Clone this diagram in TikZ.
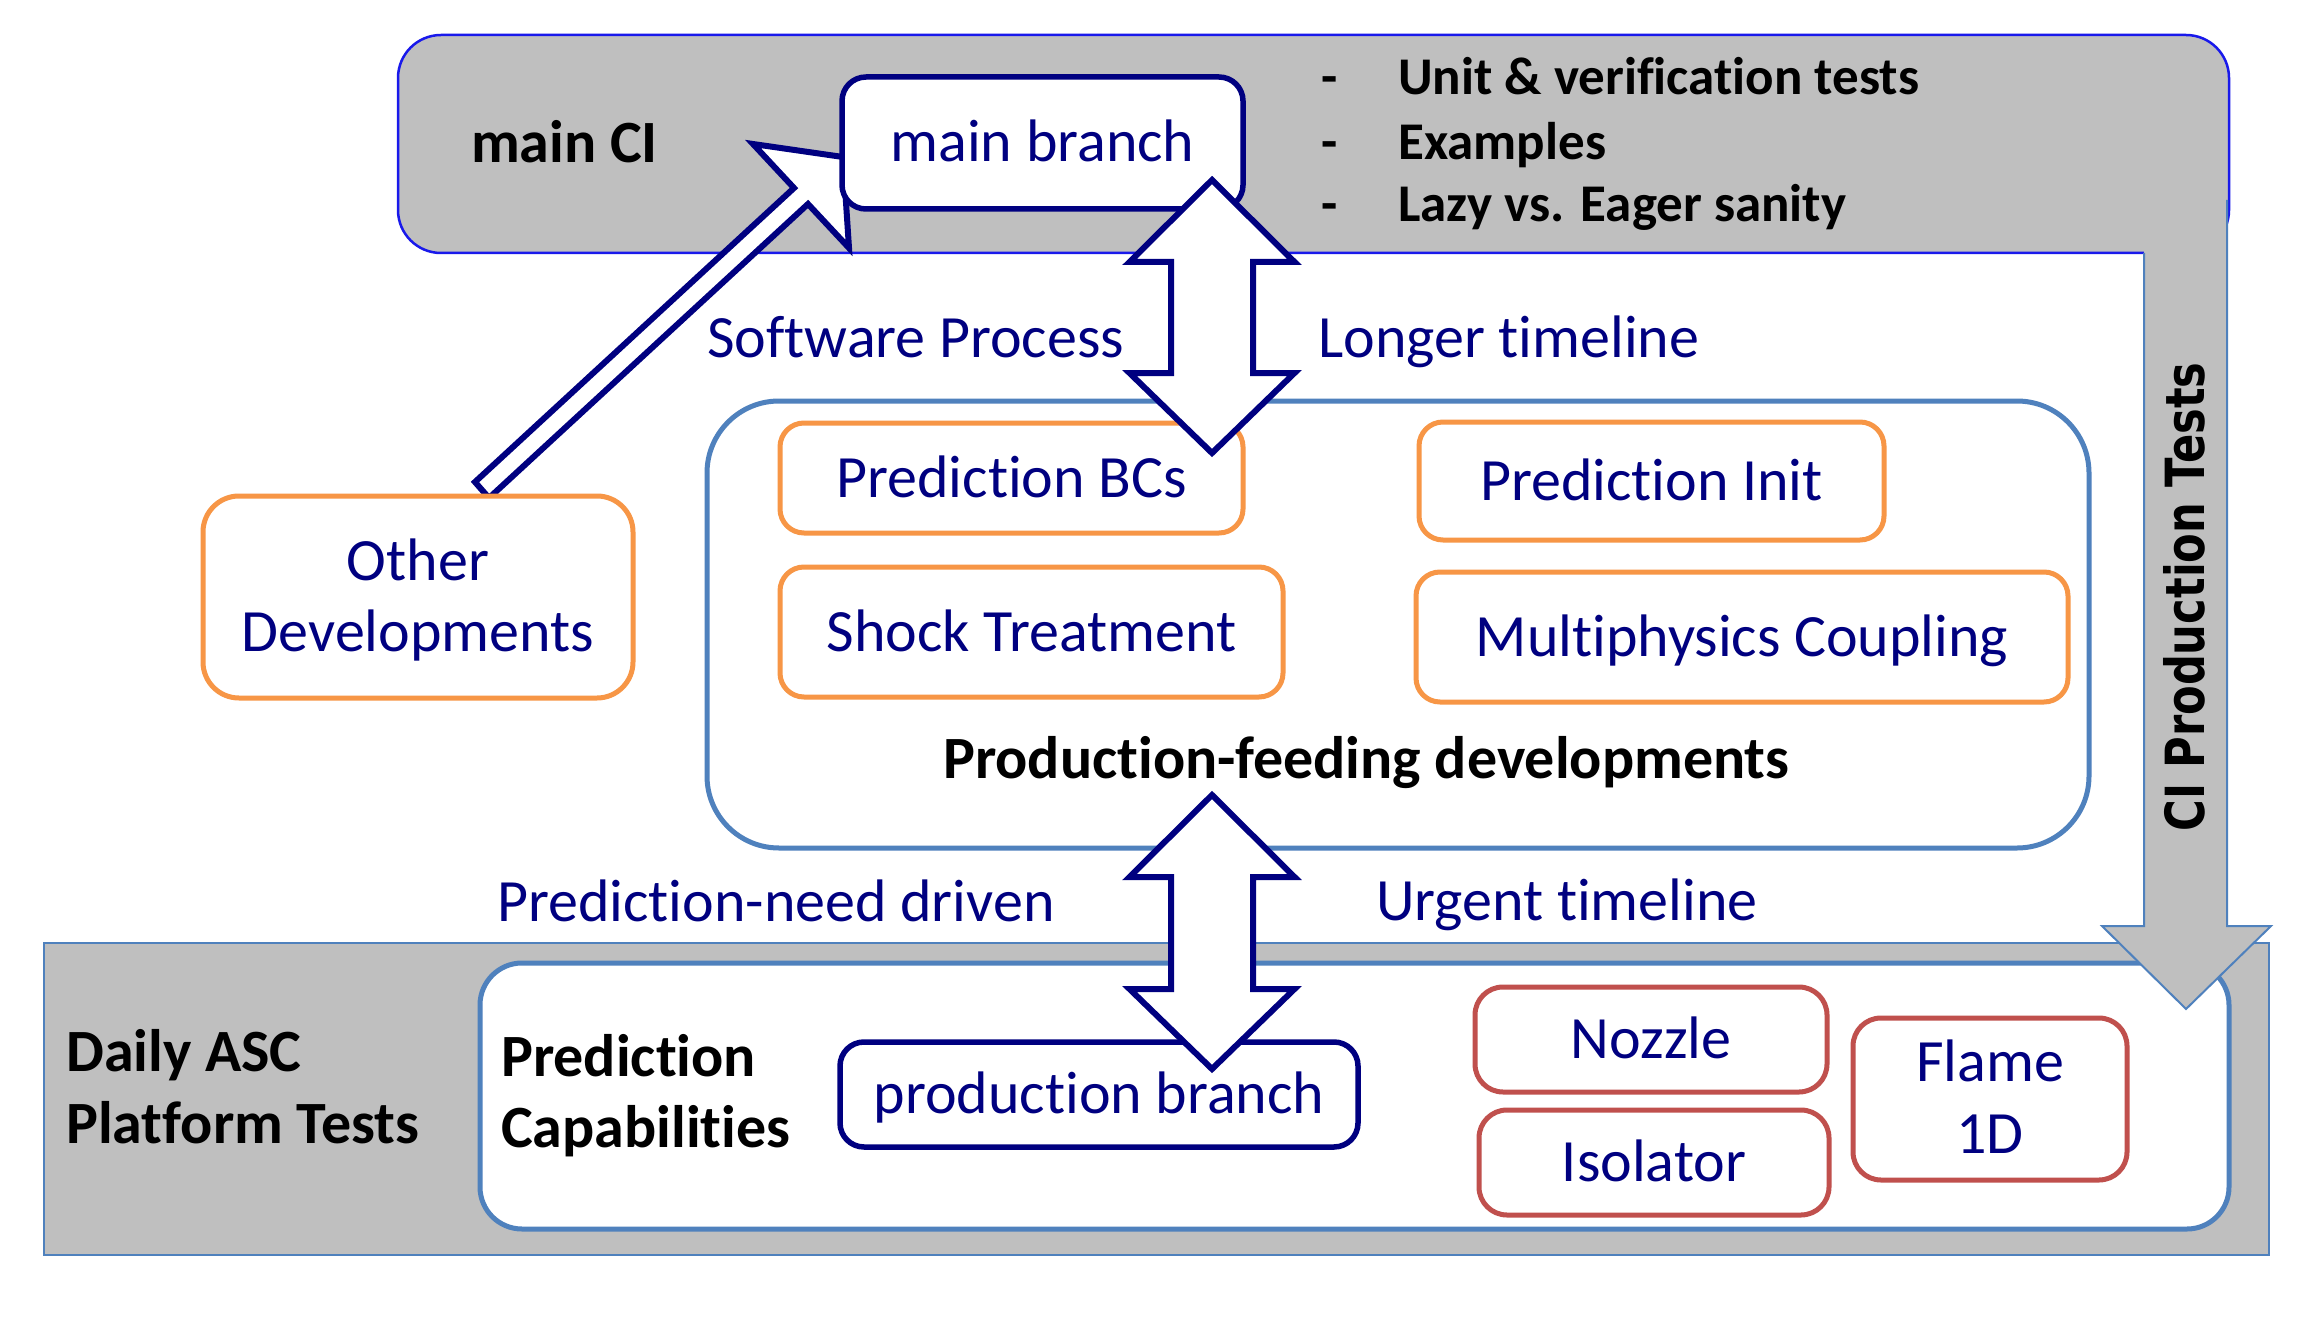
\documentclass[tikz,border=0pt]{standalone}
\usepackage{fontspec}
\usepackage{graphicx}
\setmainfont{Carlito}[Ligatures={NoCommon,NoContextual}, Contextuals=NoAlternate]
\newfontfamily\vfont{DejaVu Sans}
\definecolor{navy}{RGB}{0,0,128}
\definecolor{porange}{RGB}{247,150,70}
\definecolor{pred}{RGB}{192,80,77}
\definecolor{pblue}{RGB}{79,129,189}
\definecolor{pgray}{RGB}{191,191,191}
\definecolor{ciblue}{RGB}{25,25,235}
\tikzset{
  navytxt/.style={font=\fontsize{60}{72}\selectfont, inner sep=0pt, text=navy},
  boldtxt/.style={font=\fontsize{60}{72}\selectfont\bfseries, inner sep=0pt, text=black},
  bultxt/.style={font=\fontsize{53}{60}\selectfont\bfseries, inner sep=0pt, text=black},
  boxbase/.style={draw, fill=white, line width=5pt, inner sep=0pt,
    font=\fontsize{60}{72}\selectfont, text=navy, text height=38pt, text depth=0pt},
  navybox/.style={boxbase, draw=navy, line width=5.5pt, rounded corners=24pt},
  orangebox/.style={boxbase, draw=porange, rounded corners=24pt},
  redbox/.style={boxbase, draw=pred, rounded corners=28pt},
  container/.style={draw=pblue, fill=white, line width=5pt, inner sep=0pt},
  blockarrow/.style={draw=navy, fill=white, line width=6pt, line join=miter, miter limit=10},
}
\begin{document}
\begin{tikzpicture}[x=1pt,y=-1pt]
\useasboundingbox[fill=white] (0,0) rectangle (2310,1324);

% ---------- main CI ----------
\node[draw=ciblue, line width=2.5pt, fill=pgray, rounded corners=43pt,
      minimum width=1831pt, minimum height=218pt, inner sep=0pt] (mainci) at (1313.5,144) {};
\node[boldtxt, anchor=base west] (mainciT) at (471,163) {main CI};

% open arrow from Other Developments to main branch
\draw[blockarrow] (475,482) -- (794,188) -- (753,144) -- (843,157) -- (849,248)
   -- (808,204) -- (489,498) -- cycle;

\node[navybox, minimum width=401pt, minimum height=132pt] (mainbr) at (1042.5,143) {main branch};

\node[bultxt, anchor=base] (d1) at (1330,95) {-};
\node[bultxt, anchor=base] (d2) at (1330,160) {-};
\node[bultxt, anchor=base] (d3) at (1330,222) {-};
\node[bultxt, anchor=base west] (b1) at (1398,95) {Unit \& verification tests};
\node[bultxt, anchor=base west] (b2) at (1398,160) {Examples};
\node[bultxt, anchor=base west] (b3) at (1398,222) {Lazy vs. Eager sanity};

\node[navytxt, anchor=base west] (swp) at (707,357) {Software Process};
\node[navytxt, anchor=base west] (lt) at (1318,357) {Longer timeline};

% ---------- production-feeding developments ----------
\node[container, rounded corners=72pt, minimum width=1382pt, minimum height=447pt] (pfd) at (1398,624.5) {};
\node[orangebox, minimum width=463pt, minimum height=110pt] (bcs) at (1011.5,478) {Prediction BCs};
\node[orangebox, minimum width=503pt, minimum height=130pt] (shock) at (1031.5,632) {Shock Treatment};
\node[orangebox, minimum width=465pt, minimum height=118pt] (init) at (1651.5,481) {Prediction Init};
\node[orangebox, minimum width=652pt, minimum height=130pt] (multi) at (1742,637) {Multiphysics Coupling};
\node[boldtxt, anchor=base west] (pfdT) at (943,778) {Production-feeding developments};

% ---------- other developments ----------
\node[orangebox, rounded corners=36pt, minimum width=430pt, minimum height=202pt] (other) at (418,597) {};
\node[navytxt, anchor=base] (other1) at (418,580) {Other};
\node[navytxt, anchor=base] (other2) at (418,651) {Developments};

% top double arrow
\draw[blockarrow] (1212,180) -- (1294.5,262) -- (1253,262) -- (1253,373) -- (1294.5,373)
   -- (1212,453) -- (1129.5,373) -- (1171,373) -- (1171,262) -- (1129.5,262) -- cycle;

\node[navytxt, anchor=base west] (pnd) at (497,921) {Prediction-need driven};
\node[navytxt, anchor=base west] (ut) at (1376,920) {Urgent timeline};

% ---------- daily ASC platform tests ----------
\node[draw=pblue, line width=2pt, fill=pgray, minimum width=2225pt, minimum height=312pt, inner sep=0pt] (daily) at (1156.5,1099) {};
\node[boldtxt, anchor=base west] (daily1) at (66,1071) {Daily ASC};
\node[boldtxt, anchor=base west] (daily2) at (66,1143) {Platform Tests};

\node[container, rounded corners=42pt, minimum width=1749pt, minimum height=266pt] (pcap) at (1354.5,1096) {};
\node[boldtxt, anchor=base west] (pcap1) at (501,1076) {Prediction};
\node[boldtxt, anchor=base west] (pcap2) at (501,1147) {Capabilities};

\node[navybox, minimum width=518pt, minimum height=105pt] (prodbr) at (1099,1094.5) {production branch};
\node[redbox, minimum width=352pt, minimum height=105pt] (nozzle) at (1651,1039.5) {Nozzle};
\node[redbox, minimum width=350pt, minimum height=105pt] (isol) at (1654,1162.5) {Isolator};
\node[redbox, minimum width=274pt, minimum height=162pt] (flame) at (1990,1099) {};
\node[navytxt, anchor=base] (flame1) at (1990,1081) {Flame};
\node[navytxt, anchor=base] (flame2) at (1990,1153) {1D};

% bottom double arrow
\draw[blockarrow] (1212,795) -- (1294.5,877) -- (1253,877) -- (1253,989) -- (1294.5,989)
   -- (1212,1069) -- (1129.5,989) -- (1171,989) -- (1171,877) -- (1129.5,877) -- cycle;

% ---------- CI production tests arrow ----------
\fill[pgray] (2144,200) -- (2144,926) -- (2102,926) -- (2186,1009) -- (2271,926)
   -- (2227,926) -- (2227,200) -- cycle;
\draw[pblue, line width=2pt, line join=miter] (2144,253) -- (2144,926) -- (2102,926)
   -- (2186,1009) -- (2271,926) -- (2227,926) -- (2227,200);
\node[rotate=90, inner sep=0pt, font=\vfont\bfseries\fontsize{54}{60}\selectfont, text=black] (ciT)
   at (2184,597) {\scalebox{0.80}[1]{CI Production Tests}};
\end{tikzpicture}
\end{document}
